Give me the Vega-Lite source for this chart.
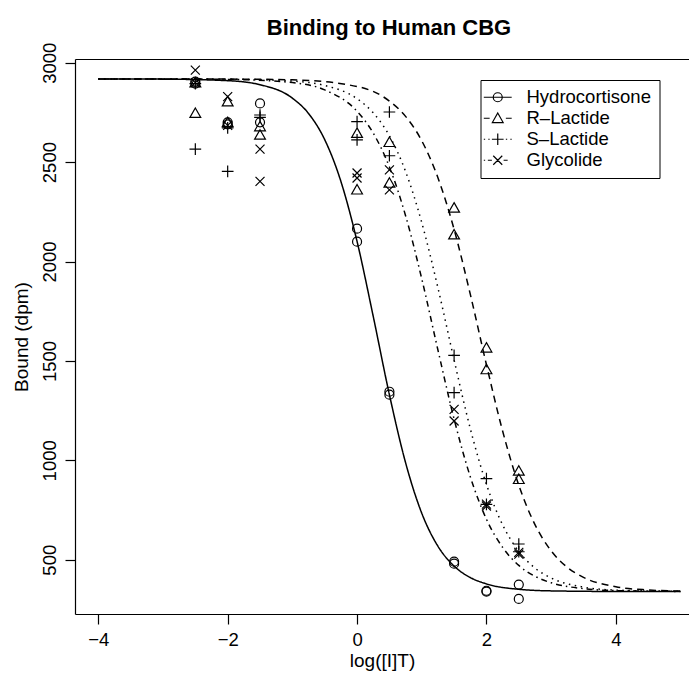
{
  "$schema": "https://vega.github.io/schema/vega-lite/v6.json",
  "width": 614,
  "height": 555,
  "autosize": "none",
  "padding": {"left": 75, "top": 59, "right": 0, "bottom": 69},
  "background": "white",
  "title": {"text": "Binding to Human CBG", "font": "Liberation Sans", "fontSize": 22, "fontWeight": "bold", "color": "black", "anchor": "middle", "dx": 7, "offset": -15, "baseline": "alphabetic"},
  "config": {
    "view": {"stroke": null},
    "axis": {"grid": false, "domainColor": "black", "tickColor": "black", "labelColor": "black", "titleColor": "black", "labelFont": "Liberation Sans", "titleFont": "Liberation Sans", "labelFontSize": 18.5, "titleFontSize": 19, "titleFontWeight": "normal", "tickSize": 10, "domainWidth": 1.2, "tickWidth": 1.2}
  },
  "datasets": {
    "curves": [
      {"compound": "Hydrocortisone", "x": -4, "y": 2918},
      {"compound": "Hydrocortisone", "x": -3, "y": 2917.3},
      {"compound": "Hydrocortisone", "x": -2, "y": 2909.6},
      {"compound": "Hydrocortisone", "x": -1.5, "y": 2889.3},
      {"compound": "Hydrocortisone", "x": -1, "y": 2821.7},
      {"compound": "Hydrocortisone", "x": -0.75, "y": 2744.5},
      {"compound": "Hydrocortisone", "x": -0.5, "y": 2613},
      {"compound": "Hydrocortisone", "x": -0.25, "y": 2403},
      {"compound": "Hydrocortisone", "x": 0, "y": 2101},
      {"compound": "Hydrocortisone", "x": 0.25, "y": 1724},
      {"compound": "Hydrocortisone", "x": 0.5, "y": 1330},
      {"compound": "Hydrocortisone", "x": 0.75, "y": 988},
      {"compound": "Hydrocortisone", "x": 1, "y": 734},
      {"compound": "Hydrocortisone", "x": 1.25, "y": 568},
      {"compound": "Hydrocortisone", "x": 1.5, "y": 468},
      {"compound": "Hydrocortisone", "x": 1.75, "y": 410.5},
      {"compound": "Hydrocortisone", "x": 2, "y": 378.4},
      {"compound": "Hydrocortisone", "x": 2.5, "y": 351.3},
      {"compound": "Hydrocortisone", "x": 3, "y": 343.3},
      {"compound": "Hydrocortisone", "x": 4, "y": 340.3},
      {"compound": "Hydrocortisone", "x": 5, "y": 340},
      {"compound": "R–Lactide", "x": -4, "y": 2918},
      {"compound": "R–Lactide", "x": -2, "y": 2917.5},
      {"compound": "R–Lactide", "x": -1, "y": 2913.8},
      {"compound": "R–Lactide", "x": 0, "y": 2880.3},
      {"compound": "R–Lactide", "x": 0.5, "y": 2806.8},
      {"compound": "R–Lactide", "x": 0.75, "y": 2730},
      {"compound": "R–Lactide", "x": 1, "y": 2607.4},
      {"compound": "R–Lactide", "x": 1.25, "y": 2421.4},
      {"compound": "R–Lactide", "x": 1.5, "y": 2161.6},
      {"compound": "R–Lactide", "x": 1.75, "y": 1835.6},
      {"compound": "R–Lactide", "x": 2, "y": 1480.6},
      {"compound": "R–Lactide", "x": 2.25, "y": 1147.2},
      {"compound": "R–Lactide", "x": 2.5, "y": 874.6},
      {"compound": "R–Lactide", "x": 2.75, "y": 676.7},
      {"compound": "R–Lactide", "x": 3, "y": 544.7},
      {"compound": "R–Lactide", "x": 3.25, "y": 461.6},
      {"compound": "R–Lactide", "x": 3.5, "y": 411.2},
      {"compound": "R–Lactide", "x": 4, "y": 363.9},
      {"compound": "R–Lactide", "x": 4.5, "y": 348},
      {"compound": "R–Lactide", "x": 5, "y": 342.6},
      {"compound": "S–Lactide", "x": -4, "y": 2918},
      {"compound": "S–Lactide", "x": -2, "y": 2917},
      {"compound": "S–Lactide", "x": -1, "y": 2907.4},
      {"compound": "S–Lactide", "x": -0.5, "y": 2885.4},
      {"compound": "S–Lactide", "x": 0, "y": 2818.9},
      {"compound": "S–Lactide", "x": 0.25, "y": 2747.9},
      {"compound": "S–Lactide", "x": 0.5, "y": 2632.2},
      {"compound": "S–Lactide", "x": 0.75, "y": 2452.8},
      {"compound": "S–Lactide", "x": 1, "y": 2195.9},
      {"compound": "S–Lactide", "x": 1.25, "y": 1867.9},
      {"compound": "S–Lactide", "x": 1.5, "y": 1504.6},
      {"compound": "S–Lactide", "x": 1.75, "y": 1159.8},
      {"compound": "S–Lactide", "x": 2, "y": 878.7},
      {"compound": "S–Lactide", "x": 2.25, "y": 675.4},
      {"compound": "S–Lactide", "x": 2.5, "y": 541.5},
      {"compound": "S–Lactide", "x": 2.75, "y": 458.1},
      {"compound": "S–Lactide", "x": 3, "y": 408.2},
      {"compound": "S–Lactide", "x": 3.5, "y": 362.2},
      {"compound": "S–Lactide", "x": 4, "y": 347.2},
      {"compound": "S–Lactide", "x": 5, "y": 340.7},
      {"compound": "Glycolide", "x": -4, "y": 2918},
      {"compound": "Glycolide", "x": -3, "y": 2917.8},
      {"compound": "Glycolide", "x": -2, "y": 2916.1},
      {"compound": "Glycolide", "x": -1, "y": 2899.8},
      {"compound": "Glycolide", "x": -0.5, "y": 2863},
      {"compound": "Glycolide", "x": 0, "y": 2755.5},
      {"compound": "Glycolide", "x": 0.25, "y": 2645.8},
      {"compound": "Glycolide", "x": 0.5, "y": 2475.5},
      {"compound": "Glycolide", "x": 0.75, "y": 2230.4},
      {"compound": "Glycolide", "x": 1, "y": 1913.2},
      {"compound": "Glycolide", "x": 1.25, "y": 1555},
      {"compound": "Glycolide", "x": 1.5, "y": 1207.7},
      {"compound": "Glycolide", "x": 1.75, "y": 917.7},
      {"compound": "Glycolide", "x": 2, "y": 703.7},
      {"compound": "Glycolide", "x": 2.25, "y": 562},
      {"compound": "Glycolide", "x": 2.5, "y": 471.3},
      {"compound": "Glycolide", "x": 2.75, "y": 416.5},
      {"compound": "Glycolide", "x": 3, "y": 384.2},
      {"compound": "Glycolide", "x": 3.5, "y": 354.5},
      {"compound": "Glycolide", "x": 4, "y": 344.7},
      {"compound": "Glycolide", "x": 5, "y": 340.5}
    ],
    "points": [
      {"compound": "Hydrocortisone", "x": -2.5, "y": 2905},
      {"compound": "Hydrocortisone", "x": -2.5, "y": 2895},
      {"compound": "Hydrocortisone", "x": -2, "y": 2700},
      {"compound": "Hydrocortisone", "x": -2, "y": 2690},
      {"compound": "Hydrocortisone", "x": -1.5, "y": 2795},
      {"compound": "Hydrocortisone", "x": -1.5, "y": 2700},
      {"compound": "Hydrocortisone", "x": 0, "y": 2165},
      {"compound": "Hydrocortisone", "x": 0, "y": 2100},
      {"compound": "Hydrocortisone", "x": 0.5, "y": 1345},
      {"compound": "Hydrocortisone", "x": 0.5, "y": 1330},
      {"compound": "Hydrocortisone", "x": 1.5, "y": 490},
      {"compound": "Hydrocortisone", "x": 1.5, "y": 480},
      {"compound": "Hydrocortisone", "x": 2, "y": 344},
      {"compound": "Hydrocortisone", "x": 2, "y": 340},
      {"compound": "Hydrocortisone", "x": 2.5, "y": 375},
      {"compound": "Hydrocortisone", "x": 2.5, "y": 303},
      {"compound": "R–Lactide", "x": -2.5, "y": 2900},
      {"compound": "R–Lactide", "x": -2.5, "y": 2746},
      {"compound": "R–Lactide", "x": -2, "y": 2804},
      {"compound": "R–Lactide", "x": -2, "y": 2700},
      {"compound": "R–Lactide", "x": -1.5, "y": 2679},
      {"compound": "R–Lactide", "x": -1.5, "y": 2637},
      {"compound": "R–Lactide", "x": 0, "y": 2646},
      {"compound": "R–Lactide", "x": 0, "y": 2361},
      {"compound": "R–Lactide", "x": 0.5, "y": 2600},
      {"compound": "R–Lactide", "x": 0.5, "y": 2395},
      {"compound": "R–Lactide", "x": 1.5, "y": 2270},
      {"compound": "R–Lactide", "x": 1.5, "y": 2135},
      {"compound": "R–Lactide", "x": 2, "y": 1566},
      {"compound": "R–Lactide", "x": 2, "y": 1457},
      {"compound": "R–Lactide", "x": 2.5, "y": 947},
      {"compound": "R–Lactide", "x": 2.5, "y": 905},
      {"compound": "S–Lactide", "x": -2.5, "y": 2895},
      {"compound": "S–Lactide", "x": -2.5, "y": 2565},
      {"compound": "S–Lactide", "x": -2, "y": 2672},
      {"compound": "S–Lactide", "x": -2, "y": 2453},
      {"compound": "S–Lactide", "x": -1.5, "y": 2737},
      {"compound": "S–Lactide", "x": -1.5, "y": 2725},
      {"compound": "S–Lactide", "x": 0, "y": 2704},
      {"compound": "S–Lactide", "x": 0, "y": 2612},
      {"compound": "S–Lactide", "x": 0.5, "y": 2752},
      {"compound": "S–Lactide", "x": 0.5, "y": 2532},
      {"compound": "S–Lactide", "x": 1.5, "y": 1528},
      {"compound": "S–Lactide", "x": 1.5, "y": 1340},
      {"compound": "S–Lactide", "x": 2, "y": 908},
      {"compound": "S–Lactide", "x": 2, "y": 778},
      {"compound": "S–Lactide", "x": 2.5, "y": 579},
      {"compound": "S–Lactide", "x": 2.5, "y": 540},
      {"compound": "Glycolide", "x": -2.5, "y": 2963},
      {"compound": "Glycolide", "x": -2.5, "y": 2900},
      {"compound": "Glycolide", "x": -2, "y": 2829},
      {"compound": "Glycolide", "x": -2, "y": 2685},
      {"compound": "Glycolide", "x": -1.5, "y": 2565},
      {"compound": "Glycolide", "x": -1.5, "y": 2403},
      {"compound": "Glycolide", "x": 0, "y": 2445},
      {"compound": "Glycolide", "x": 0, "y": 2420},
      {"compound": "Glycolide", "x": 0.5, "y": 2461},
      {"compound": "Glycolide", "x": 0.5, "y": 2360},
      {"compound": "Glycolide", "x": 1.5, "y": 1256},
      {"compound": "Glycolide", "x": 1.5, "y": 1198},
      {"compound": "Glycolide", "x": 2, "y": 780},
      {"compound": "Glycolide", "x": 2, "y": 770},
      {"compound": "Glycolide", "x": 2.5, "y": 537},
      {"compound": "Glycolide", "x": 2.5, "y": 528}
    ]
  },
  "layer": [
    {
      "data": {"name": "curves"},
      "mark": {"type": "line", "interpolate": "monotone", "color": "black", "strokeWidth": 1.5, "clip": true},
      "encoding": {
        "x": {"field": "x", "type": "quantitative", "scale": {"domain": [-4.36, 5.131], "nice": false, "zero": false},
              "axis": {"values": [-4, -2, 0, 2, 4], "title": "log([I]T)", "labelPadding": 6, "titlePadding": 3, "labelFlush": false}},
        "y": {"field": "y", "type": "quantitative", "scale": {"domain": [227, 3018.6], "nice": false, "zero": false},
              "axis": {"values": [500, 1000, 1500, 2000, 2500, 3000], "format": "d", "title": "Bound (dpm)", "labelAngle": 270, "labelAlign": "center", "labelBaseline": "alphabetic", "labelPadding": 10, "titlePadding": 9}},
        "strokeDash": {"field": "compound", "type": "nominal",
                       "scale": {"domain": ["Hydrocortisone", "R–Lactide", "S–Lactide", "Glycolide"], "range": [[1, 0], [7, 5], [1.5, 4.5], [1.5, 4, 6, 4]]},
                       "legend": null}
      }
    },
    {
      "data": {"name": "points"},
      "mark": {"type": "point", "filled": false, "color": "black", "strokeWidth": 1.2, "size": 81, "opacity": 1},
      "encoding": {
        "x": {"field": "x", "type": "quantitative", "axis": {"orient": "top", "labels": false, "ticks": false, "title": null, "domain": true, "grid": false, "minExtent": 0, "maxExtent": 0}},
        "y": {"field": "y", "type": "quantitative"},
        "shape": {"field": "compound", "type": "nominal",
                  "scale": {"domain": ["Hydrocortisone", "R–Lactide", "S–Lactide", "Glycolide"],
                            "range": ["M1,0A1,1,0,1,1,-1,0A1,1,0,1,1,1,0Z", "M0,-1.15L1.2,0.95L-1.2,0.95Z", "M-1.3,0L1.3,0M0,-1.3L0,1.3", "M-1,-1L1,1M-1,1L1,-1"]},
                  "legend": null}
      }
    },
    {
      "data": {"name": "points"},
      "transform": [{"filter": "datum.x > 100"}],
      "mark": {"type": "point", "filled": false, "color": "black", "strokeWidth": 1.2, "size": 81, "opacity": 1},
      "encoding": {
        "x": {"field": "x", "type": "quantitative", "axis": null},
        "y": {"field": "y", "type": "quantitative"},
        "shape": {"field": "compound", "type": "nominal",
                  "scale": {"domain": ["Hydrocortisone", "R–Lactide", "S–Lactide", "Glycolide"],
                            "range": ["M1,0A1,1,0,1,1,-1,0A1,1,0,1,1,1,0ZM-3.1,0L3.1,0", "M0,-1.15L1.2,0.95L-1.2,0.95ZM-3.1,0L-1.8,0M1.8,0L3.1,0", "M-1.3,0L1.3,0M0,-1.3L0,1.3M-3.1,0L-2.8,0M-2.1,0L-1.8,0M1.8,0L2.1,0M2.8,0L3.1,0", "M-1,-1L1,1M-1,1L1,-1M-3.1,0L-2.8,0M-2.2,0L-1.3,0M1.3,0L2.2,0"]},
                  "legend": {"orient": "none", "legendX": 405.5, "legendY": 21, "title": null, "padding": 8,
                             "strokeColor": "black", "fillColor": "white", "labelFont": "Liberation Sans", "labelFontSize": 18.5, "labelColor": "black",
                             "symbolSize": 81, "symbolStrokeWidth": 1.2, "symbolStrokeColor": "black", "symbolFillColor": "transparent", "symbolOpacity": 1, "labelOffset": 19.5, "rowPadding": 2}}
      }
    }
  ],
  "resolve": {"axis": {"x": "independent"}, "scale": {"shape": "independent"}, "legend": {"shape": "independent"}}
}
